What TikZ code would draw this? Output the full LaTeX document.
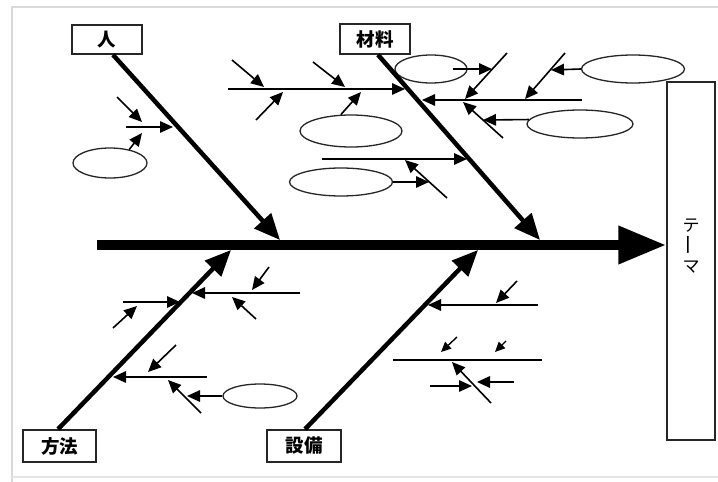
\documentclass[tikz,border=0pt]{standalone}
\usepackage{fontspec}
\usepackage{graphicx}
\usetikzlibrary{arrows.meta,shapes.geometric}
\newfontfamily\jpfont{Noto Sans CJK JP}

\begin{document}
\begin{tikzpicture}[x=1pt,y=-1pt,
  catbox/.style={draw=black!85,line width=1.6pt,fill=white,inner sep=0pt,
    font=\jpfont\bfseries\fontsize{18.5}{18.5}\selectfont},
  cause/.style={ellipse,draw=black!85,line width=1.3pt,inner sep=0pt},
  spine/.style={line width=10pt,-{Triangle[length=48pt,width=36pt]}},
  bone/.style={line width=4.5pt,-{Triangle[length=26pt,width=22pt]}},
  twig/.style={line width=1.6pt,-{Triangle[length=13pt,width=11.5pt]}},
  bar/.style={line width=1.6pt},
  tiny/.style={line width=1.4pt,-{Triangle[length=10pt,width=9pt]}}]

% canvas and light frame
\useasboundingbox (0,0) rectangle (718,482);
\fill[white] (0,0) rectangle (718,482);
\draw[black!15,line width=2pt] (12,482) -- (12,7) -- (720,7);
\draw[black!10,line width=1.5pt] (12,477) -- (718,477);

% theme box with vertical title
\node[draw=black!85,line width=1.4pt,minimum width=48pt,minimum height=358pt,inner sep=0pt]
  (theme) at (691,261) {};
\node[font=\jpfont\fontsize{17}{17}\selectfont,align=center,inner sep=0pt] (themetext) at (691,246)
  {テ\\[1pt]\rotatebox{90}{\scalebox{1.25}[1.1]{ー}}\\[0pt]マ};

% category boxes
\node[catbox,minimum width=70pt,minimum height=29pt] (hito) at (107,39.5) {人};
\node[catbox,minimum width=70pt,minimum height=30pt] (zairyo) at (375,39) {材料};
\node[catbox,minimum width=73pt,minimum height=32pt] (hoho) at (59.5,446) {方法};
\node[catbox,minimum width=74pt,minimum height=32pt] (setsubi) at (304,446) {設備};

% cause ellipses
\node[cause,minimum width=74pt,minimum height=30pt] (e1) at (110,163) {};
\node[cause,minimum width=102pt,minimum height=32pt] (e2) at (351,131) {};
\node[cause,minimum width=72pt,minimum height=28pt] (e3) at (431,69) {};
\node[cause,minimum width=103pt,minimum height=28pt] (e4) at (633,69) {};
\node[cause,minimum width=106pt,minimum height=28pt] (e5) at (580,124) {};
\node[cause,minimum width=103pt,minimum height=28pt] (e6) at (341,182) {};
\node[cause,minimum width=74pt,minimum height=24pt] (e7) at (260,396) {};

% spine
\coordinate (sp0) at (97,245);
\draw[spine] (sp0) -- (sp0 -| theme.west);

% main bones
\coordinate (hb1) at (280,240);
\coordinate (zb1) at (540,240);
\coordinate (mb1) at (231,250);
\coordinate (sb1) at (478,250);
\draw[bone] ([xshift=6pt]hito.south) -- (hb1);
\draw[bone] ([xshift=3pt]zairyo.south) -- (zb1);
\draw[bone] ([xshift=-1.5pt]hoho.north) -- (mb1);
\draw[bone] ([xshift=1pt]setsubi.north) -- (sb1);

% ---- people branch
\coordinate (h1a) at (126,127); \coordinate (h1b) at (173,127);
\coordinate (h2a) at (117,97);  \coordinate (h2b) at (142,122);
\coordinate (h3b) at (142,133);
\draw[twig] (h1a) -- (h1b);
\draw[twig] (h2a) -- (h2b);
\draw[twig] (e1.35) -- (h3b);

% ---- material branch, upper left
\coordinate (z1a) at (228,89);  \coordinate (z1b) at (405,89);
\coordinate (z2a) at (232,60);  \coordinate (z2b) at (264,87);
\coordinate (z3a) at (256,120); \coordinate (z3b) at (283,92);
\coordinate (z4a) at (313,62);  \coordinate (z4b) at (345,87);
\coordinate (z5b) at (361,92);
\draw[twig] (z1a) -- (z1b);
\draw[twig] (z2a) -- (z2b);
\draw[twig] (z3a) -- (z3b);
\draw[twig] (z4a) -- (z4b);
\draw[twig] (e2.122) -- (z5b);

% ---- material branch, upper right
\coordinate (z6a) at (582,100); \coordinate (z6b) at (422,100);
\coordinate (z7a) at (507,53);  \coordinate (z7b) at (465,99);
\coordinate (z8a) at (503,138); \coordinate (z8b) at (463,102);
\coordinate (z9b) at (492,69);
\coordinate (z10a) at (565,53); \coordinate (z10b) at (525,99);
\coordinate (z11b) at (551,70);
\coordinate (z12b) at (483,120);
\draw[twig] (z6a) -- (z6b);
\draw[twig] (z7a) -- (z7b);
\draw[twig] (z8a) -- (z8b);
\draw[twig] ([xshift=-15pt]e3.east) -- (z9b);
\draw[twig] (z10a) -- (z10b);
\draw[twig] (e4.west) -- (z11b);
\draw[twig] (e5.175) -- (z12b);

% ---- material branch, lower left
\coordinate (z13a) at (322,159); \coordinate (z13b) at (467,159);
\coordinate (z14a) at (447,198); \coordinate (z14b) at (405,160);
\coordinate (z15b) at (429,182);
\draw[twig] (z13a) -- (z13b);
\draw[twig] (z14a) -- (z14b);
\draw[twig] (e6.east) -- (z15b);

% ---- method branch
\coordinate (m1a) at (123,302); \coordinate (m1b) at (180,302);
\coordinate (m2a) at (113,328); \coordinate (m2b) at (137,306);
\coordinate (m3a) at (300,293); \coordinate (m3b) at (192,293);
\coordinate (m4a) at (269,267); \coordinate (m4b) at (252,290);
\coordinate (m5a) at (256,319); \coordinate (m5b) at (232,297);
\coordinate (m6a) at (207,377); \coordinate (m6b) at (113,377);
\coordinate (m7a) at (176,345); \coordinate (m7b) at (148,372);
\coordinate (m8a) at (201,413); \coordinate (m8b) at (168,380);
\coordinate (m9b) at (187,396);
\draw[twig] (m1a) -- (m1b);
\draw[twig] (m2a) -- (m2b);
\draw[twig] (m3a) -- (m3b);
\draw[twig] (m4a) -- (m4b);
\draw[twig] (m5a) -- (m5b);
\draw[twig] (m6a) -- (m6b);
\draw[twig] (m7a) -- (m7b);
\draw[twig] (m8a) -- (m8b);
\draw[twig] (e7.west) -- (m9b);

% ---- equipment branch
\coordinate (s1a) at (538,305); \coordinate (s1b) at (428,305);
\coordinate (s2a) at (517,281); \coordinate (s2b) at (496,303);
\coordinate (s3a) at (393,360); \coordinate (s3b) at (542,360);
\coordinate (s4a) at (457,337); \coordinate (s4b) at (441,352);
\coordinate (s5a) at (506,341); \coordinate (s5b) at (495,352);
\coordinate (s6a) at (491,403); \coordinate (s6b) at (452,362);
\coordinate (s7a) at (430,386); \coordinate (s7b) at (472,386);
\coordinate (s8a) at (514,382); \coordinate (s8b) at (477,382);
\draw[twig] (s1a) -- (s1b);
\draw[twig] (s2a) -- (s2b);
\draw[bar]  (s3a) -- (s3b);
\draw[tiny] (s4a) -- (s4b);
\draw[tiny] (s5a) -- (s5b);
\draw[twig] (s6a) -- (s6b);
\draw[twig] (s7a) -- (s7b);
\draw[twig] (s8a) -- (s8b);
\end{tikzpicture}
\end{document}
